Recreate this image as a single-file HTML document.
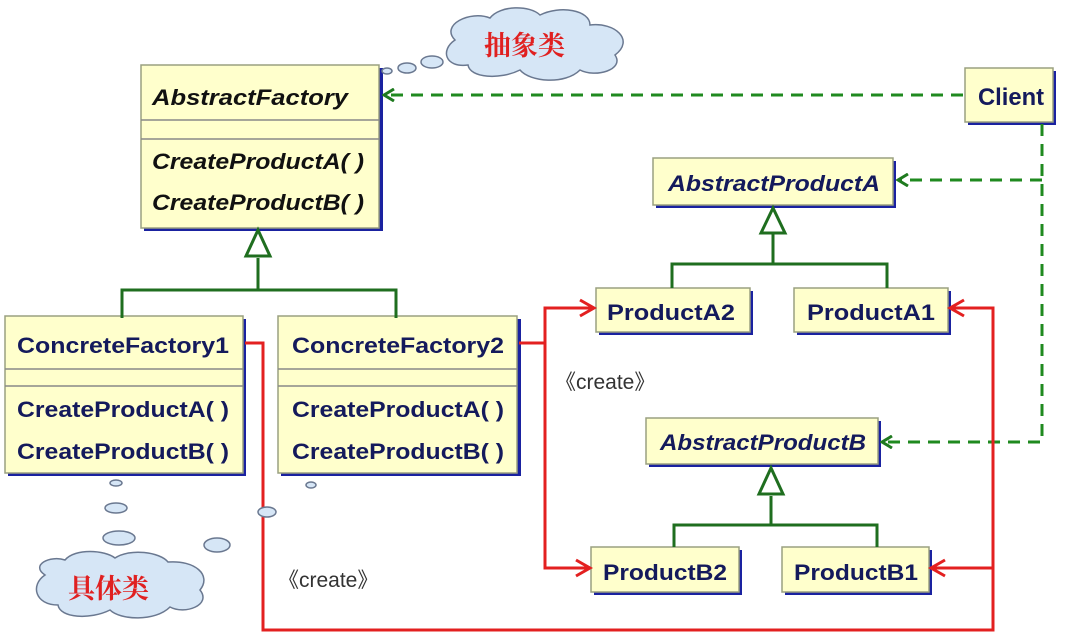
<!DOCTYPE html>
<html><head><meta charset="utf-8"><style>
html,body{margin:0;padding:0;background:#fff;}
svg{display:block;}
.t{font-family:"Liberation Sans",Arial,sans-serif;font-weight:bold;fill:#141a5c;}
.ti{font-family:"Liberation Sans",Arial,sans-serif;font-weight:bold;font-style:italic;}
</style></head><body>
<svg width="1079" height="635" viewBox="0 0 1079 635" xmlns="http://www.w3.org/2000/svg">
<defs>
<marker id="ga" markerWidth="14" markerHeight="14" refX="12" refY="7" orient="auto" markerUnits="userSpaceOnUse"><path d="M2,1 L12,7 L2,13" fill="none" stroke="#1f7a1f" stroke-width="3"/></marker>
</defs>
<g fill="#1a22a0">
<rect x="144" y="68" width="239" height="163"/>
<rect x="8" y="319" width="238" height="157"/>
<rect x="281" y="319" width="240" height="157"/>
<rect x="656" y="161" width="240" height="47"/>
<rect x="599" y="291" width="154" height="44"/>
<rect x="797" y="291" width="154" height="44"/>
<rect x="649" y="421" width="232" height="46"/>
<rect x="594" y="550" width="148" height="45"/>
<rect x="785" y="550" width="147" height="45"/>
<rect x="968" y="71" width="88" height="54"/>
</g>
<g fill="#ffffcc" stroke="#9aa080" stroke-width="1.5">
<rect x="141" y="65" width="238" height="163"/>
<rect x="5" y="316" width="238" height="157"/>
<rect x="278" y="316" width="239" height="157"/>
<rect x="653" y="158" width="240" height="47"/>
<rect x="596" y="288" width="154" height="44"/>
<rect x="794" y="288" width="154" height="44"/>
<rect x="646" y="418" width="232" height="46"/>
<rect x="591" y="547" width="148" height="45"/>
<rect x="782" y="547" width="147" height="45"/>
<rect x="965" y="68" width="88" height="54"/>
</g>
<g stroke="#888" stroke-width="1.5">
<line x1="141" y1="120" x2="379" y2="120"/><line x1="141" y1="139" x2="379" y2="139"/>
<line x1="5" y1="369" x2="243" y2="369"/><line x1="5" y1="386" x2="243" y2="386"/>
<line x1="278" y1="369" x2="517" y2="369"/><line x1="278" y1="386" x2="517" y2="386"/>
</g>
<g font-size="22">
<text class="ti" x="152" y="105" fill="#111" textLength="196" lengthAdjust="spacingAndGlyphs">AbstractFactory</text>
<text class="ti" x="152" y="169" fill="#111" textLength="212" lengthAdjust="spacingAndGlyphs">CreateProductA( )</text>
<text class="ti" x="152" y="210" fill="#111" textLength="212" lengthAdjust="spacingAndGlyphs">CreateProductB( )</text>
<text class="t" x="17" y="353" textLength="212" lengthAdjust="spacingAndGlyphs">ConcreteFactory1</text>
<text class="t" x="17" y="417" textLength="212" lengthAdjust="spacingAndGlyphs">CreateProductA( )</text>
<text class="t" x="17" y="459" textLength="212" lengthAdjust="spacingAndGlyphs">CreateProductB( )</text>
<text class="t" x="292" y="353" textLength="212" lengthAdjust="spacingAndGlyphs">ConcreteFactory2</text>
<text class="t" x="292" y="417" textLength="212" lengthAdjust="spacingAndGlyphs">CreateProductA( )</text>
<text class="t" x="292" y="459" textLength="212" lengthAdjust="spacingAndGlyphs">CreateProductB( )</text>
<text class="ti" x="668" y="191" fill="#141a5c" textLength="212" lengthAdjust="spacingAndGlyphs">AbstractProductA</text>
<text class="ti" x="660" y="450" fill="#141a5c" textLength="206" lengthAdjust="spacingAndGlyphs">AbstractProductB</text>
<text class="t" x="607" y="320" textLength="128" lengthAdjust="spacingAndGlyphs">ProductA2</text>
<text class="t" x="807" y="320" textLength="128" lengthAdjust="spacingAndGlyphs">ProductA1</text>
<text class="t" x="603" y="580" textLength="124" lengthAdjust="spacingAndGlyphs">ProductB2</text>
<text class="t" x="794" y="580" textLength="124" lengthAdjust="spacingAndGlyphs">ProductB1</text>
<text class="t" x="978" y="105" font-size="24" textLength="66" lengthAdjust="spacingAndGlyphs">Client</text>
</g>
<g stroke="#1f6e1f" stroke-width="3" fill="none">
<polyline points="122,318 122,290 396,290 396,318"/><line x1="258" y1="258" x2="258" y2="290"/>
<polygon points="258,230 246,256 270,256" fill="#fff"/>
<polyline points="672,288 672,264 887,264 887,288"/><line x1="773" y1="234" x2="773" y2="264"/>
<polygon points="773,208 761,233 785,233" fill="#fff"/>
<polyline points="674,547 674,525 877,525 877,547"/><line x1="771" y1="496" x2="771" y2="525"/>
<polygon points="771,468 759,494 783,494" fill="#fff"/>
</g>
<g stroke="#1f8a1f" stroke-width="3" fill="none" stroke-dasharray="12,8">
<line x1="963" y1="95" x2="384" y2="95" marker-end="url(#ga)"/>
<polyline points="1042,124 1042,442 882,442" marker-end="url(#ga)"/>
<line x1="1042" y1="180" x2="898" y2="180" marker-end="url(#ga)"/>
</g>
<g stroke="#e32020" stroke-width="3" fill="none">
<line x1="519" y1="343" x2="545" y2="343"/>
<polyline points="594,308 545,308 545,568 590,568"/>
<polyline points="245,343 263,343 263,630 993,630 993,308 950,308"/>
<line x1="993" y1="568" x2="931" y2="568"/>
<path d="M580,300 L594,308 L580,316"/><path d="M576,560 L590,568 L576,576"/>
<path d="M964,300 L950,308 L964,316"/><path d="M945,560 L931,568 L945,576"/>
</g>
<g font-family="'Liberation Sans',sans-serif" font-size="21" fill="#333">
<text x="555" y="389">《create》</text>
<text x="278" y="587">《create》</text>
</g>
<g fill="#d6e6f6" stroke="#6a7890" stroke-width="1.5">
<path d="M455,40 C440,25 470,10 490,18 C500,5 530,5 540,15 C560,5 590,10 590,25 C615,22 635,40 615,55 C625,70 595,78 580,70 C565,85 530,82 520,70 C500,80 470,78 468,65 C445,68 440,50 455,40 Z"/>
<ellipse cx="432" cy="62" rx="11" ry="6"/><ellipse cx="407" cy="68" rx="9" ry="5"/><ellipse cx="387" cy="71" rx="5" ry="3"/>
<path d="M45,575 C30,565 50,555 65,560 C75,548 105,550 115,558 C130,548 160,552 168,562 C195,560 212,575 200,590 C212,605 185,615 170,607 C155,622 120,620 110,610 C90,620 60,618 58,605 C35,605 30,585 45,575 Z"/>
<ellipse cx="119" cy="538" rx="16" ry="7"/><ellipse cx="116" cy="508" rx="11" ry="5"/><ellipse cx="116" cy="483" rx="6" ry="3"/>
<ellipse cx="217" cy="545" rx="13" ry="7"/><ellipse cx="267" cy="512" rx="9" ry="5"/><ellipse cx="311" cy="485" rx="5" ry="3"/>
</g>
<g font-family="'Noto Serif CJK SC','Noto Sans CJK SC',serif" font-size="27" font-weight="bold" fill="#e02020">
<text x="484" y="55">抽象类</text>
<text x="68" y="598">具体类</text>
</g>
</svg>
</body></html>
